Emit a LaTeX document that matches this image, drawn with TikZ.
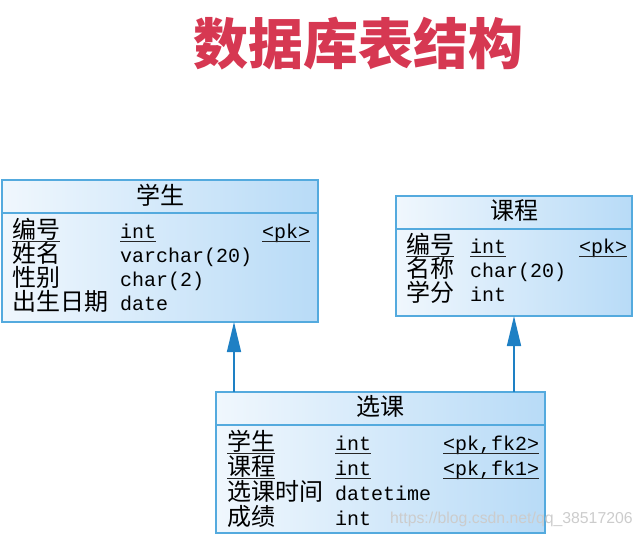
\documentclass[tikz,border=0pt]{standalone}
\usepackage{fontspec}
\setmonofont{Liberation Mono}
\newfontfamily\cjk{Noto Sans CJK SC}
\newfontfamily\wmfont{Liberation Sans}
\usetikzlibrary{arrows.meta}
\definecolor{bord}{RGB}{84,170,222}
\definecolor{arrc}{RGB}{30,128,196}
\definecolor{titlered}{RGB}{214,56,82}
\definecolor{fillA}{RGB}{240,247,253}
\definecolor{fillB}{RGB}{184,219,247}
\begin{document}
\begin{tikzpicture}[x=1pt,y=-1pt,
  tbl/.style={draw=bord, line width=1.2pt, left color=fillA, right color=fillB,
              anchor=north west, inner sep=0pt, outer sep=0pt},
  divline/.style={draw=bord, line width=1.2pt},
  hd/.style={font=\cjk\fontsize{24}{24}\selectfont, inner sep=0pt, anchor=base},
  cn/.style={font=\cjk\fontsize{24}{24}\selectfont, inner sep=0pt, anchor=base west},
  mono/.style={font=\ttfamily\fontsize{20}{20}\selectfont, inner sep=0pt, anchor=base west},
  ul/.style={draw=black!85, line width=0.9pt},
  fk/.style={draw=arrc, line width=1.6pt, -{Triangle[length=30pt,width=14pt]}}
]
\useasboundingbox (0,0) rectangle (644,536);
% title
\node[font=\cjk\bfseries\fontsize{55}{55}\selectfont, text=titlered, inner sep=0pt] (title) at (358,44) {数据库表结构};

% ---------- 学生 ----------
\node[tbl, minimum width=316pt, minimum height=142pt] (stu) at (2,180) {};
\draw[divline] ([yshift=-33pt]stu.north west) -- ([yshift=-33pt]stu.north east);
\node[hd] (stuh) at (160,204) {学生};
\node[cn] (s1n) at (12,238) {编号};
\node[mono] (s1t) at (120,238) {int};
\node[mono] (s1k) at (262,238) {<pk>};
\node[cn] (s2n) at (12,262) {姓名};
\node[mono] (s2t) at (120,262) {varchar(20)};
\node[cn] (s3n) at (12,286) {性别};
\node[mono] (s3t) at (120,286) {char(2)};
\node[cn] (s4n) at (12,310) {出生日期};
\node[mono] (s4t) at (120,310) {date};
\foreach \n in {s1n,s1t,s1k}
  \draw[ul] ([yshift=-3pt]\n.base west) -- ([yshift=-3pt]\n.base east);

% ---------- 课程 ----------
\node[tbl, minimum width=236pt, minimum height=120pt] (crs) at (396,196) {};
\draw[divline] ([yshift=-33pt]crs.north west) -- ([yshift=-33pt]crs.north east);
\node[hd] (crsh) at (514,219) {课程};
\node[cn] (c1n) at (406,253) {编号};
\node[mono] (c1t) at (470,253) {int};
\node[mono] (c1k) at (579,253) {<pk>};
\node[cn] (c2n) at (406,277) {名称};
\node[mono] (c2t) at (470,277) {char(20)};
\node[cn] (c3n) at (406,301) {学分};
\node[mono] (c3t) at (470,301) {int};
\foreach \n in {c1n,c1t,c1k}
  \draw[ul] ([yshift=-3pt]\n.base west) -- ([yshift=-3pt]\n.base east);

% ---------- 选课 ----------
\node[tbl, minimum width=329pt, minimum height=141pt] (xk) at (216,392) {};
\draw[divline] ([yshift=-33pt]xk.north west) -- ([yshift=-33pt]xk.north east);
\node[hd] (xkh) at (380,415) {选课};
\node[cn] (x1n) at (227,450) {学生};
\node[mono] (x1t) at (335,450) {int};
\node[mono] (x1k) at (443,450) {<pk,fk2>};
\node[cn] (x2n) at (227,475) {课程};
\node[mono] (x2t) at (335,475) {int};
\node[mono] (x2k) at (443,475) {<pk,fk1>};
\node[cn] (x3n) at (227,500) {选课时间};
\node[mono] (x3t) at (335,500) {datetime};
\node[cn] (x4n) at (227,525) {成绩};
\node[mono] (x4t) at (335,525) {int};
\foreach \n in {x1n,x1t,x1k,x2n,x2t,x2k}
  \draw[ul] ([yshift=-3pt]\n.base west) -- ([yshift=-3pt]\n.base east);

% ---------- references ----------
\coordinate (a1) at (234,392);
\coordinate (a2) at (514,392);
\draw[fk] (a1) -- (a1 |- stu.south);
\draw[fk] (a2) -- (a2 |- crs.south);

% watermark
\node[font=\wmfont\fontsize{15.8}{15.8}\selectfont, text=black!20, inner sep=0pt, anchor=base west] (wm) at (390,523) {https://blog.csdn.net/qq\_38517206};
\end{tikzpicture}
\end{document}
